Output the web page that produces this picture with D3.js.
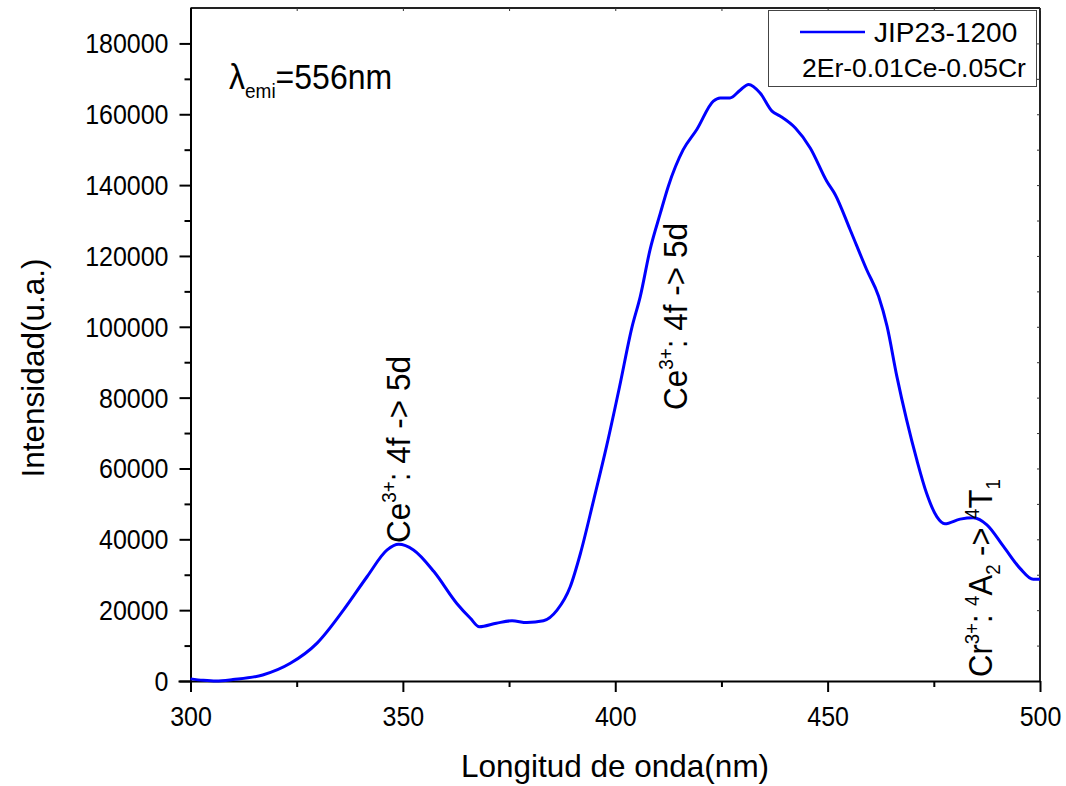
<!DOCTYPE html>
<html>
<head>
<meta charset="utf-8">
<script src="https://cdn.jsdelivr.net/npm/d3@7"></script>
<style>
  html, body { margin: 0; padding: 0; background: #fff; }
  svg { display: block; }
  text { font-family: Arial, "Liberation Sans", sans-serif; fill: #000; }
</style>
</head>
<body>
<svg id="chart" width="1066" height="786"></svg>
<script>
// Excitation spectrum, emission monitored at 556 nm
const wavelength = [300, 303, 306, 310, 317, 323.5, 329.8, 336, 341.6, 346.3, 349, 352.5, 357.3, 362.7, 365.9, 368,
  372, 375.7, 379.2, 383.1, 386.3, 389.4, 391.8, 394.9, 398, 401, 403.9, 405.9, 408.2, 410.6, 412.5, 416, 419.2,
  423.1, 424.7, 427, 429.4, 431.4, 434.1, 436.9, 438.8, 442.4, 445.9, 449.8, 451.8, 455.3, 459.2, 462, 464, 466.3,
  468.6, 471, 473.3, 475.7, 477.6, 481.2, 484.3, 487.5, 491.4, 495.3, 498.4, 500];
const intensity = [600, 200, 0, 400, 1700, 5000, 10700, 20000, 29500, 37000, 38600, 37000, 30900, 21900, 17700, 15300,
  16300, 17000, 16500, 17000, 20000, 26600, 36000, 51000, 66500, 83000, 99700, 108600, 121800, 132000, 139700, 150000, 155700,
  163700, 164600, 164600, 166800, 168400, 166000, 160900, 159500, 156100, 150500, 141100, 137300, 127400, 116100, 108600, 100100, 86000,
  73700, 62400, 53000, 46400, 44400, 45700, 46100, 44100, 38000, 31800, 28700, 28700];

const xTicks = [300, 350, 400, 450, 500];
const xMinorTicks = [325, 375, 425, 475];
const yTicks = [0, 20000, 40000, 60000, 80000, 100000, 120000, 140000, 160000, 180000];
const yMinorTicks = [10000, 30000, 50000, 70000, 90000, 110000, 130000, 150000, 170000];

const seriesName = "JIP23-1200";
const sampleName = "2Er-0.01Ce-0.05Cr";

const svg = d3.select("#chart");
const padL = 190.5, padR = 1040, padT = 8, padB = 681;

const x = d3.scaleLinear().domain([300, 500]).range([padL, padR]);
const y = d3.scaleLinear().domain([0, 190000]).range([padB, padT]);

const STRETCH = 1.08;

// frame (top and right)
svg.append("line").attr("x1", padL).attr("x2", padR).attr("y1", padT).attr("y2", padT)
  .attr("stroke", "#222").attr("stroke-width", 2);
svg.append("line").attr("x1", padR).attr("x2", padR).attr("y1", padT).attr("y2", padB)
  .attr("stroke", "#222").attr("stroke-width", 2);

// small ticks on top and right edges
svg.append("g").attr("transform", `translate(0,${padT})`)
  .call(d3.axisBottom(x).tickValues(xTicks.concat(xMinorTicks)).tickSize(3).tickFormat(""))
  .call(g => g.select(".domain").remove())
  .call(g => g.selectAll("line").attr("stroke", "#333").attr("stroke-width", 1));
svg.append("g").attr("transform", `translate(${padR},0)`)
  .call(d3.axisLeft(y).tickValues(yTicks.concat(yMinorTicks)).tickSize(3).tickFormat(""))
  .call(g => g.select(".domain").remove())
  .call(g => g.selectAll("line").attr("stroke", "#333").attr("stroke-width", 1));

// bottom axis
const gx = svg.append("g").attr("transform", `translate(0,${padB})`);
gx.call(d3.axisBottom(x).tickValues(xMinorTicks).tickSize(6).tickFormat("").tickSizeOuter(0))
  .call(g => g.select(".domain").remove());
gx.append("g").call(d3.axisBottom(x).tickValues(xTicks).tickSize(11).tickPadding(10).tickSizeOuter(0));
gx.selectAll("line").attr("stroke", "#000").attr("stroke-width", 2);
gx.selectAll(".domain").attr("stroke", "#000").attr("stroke-width", 2).attr("d", `M${padL - 12},0.5H${padR}`);
gx.selectAll("text").attr("font-size", 25).attr("font-family", null)
  .attr("y", null)
  .attr("transform", `translate(0,36) scale(1,${STRETCH})`)
  .attr("dy", "0.35em");

// left axis
const gy = svg.append("g").attr("transform", `translate(${padL},0)`);
gy.call(d3.axisLeft(y).tickValues(yMinorTicks).tickSize(6).tickFormat("").tickSizeOuter(0))
  .call(g => g.select(".domain").remove());
gy.append("g").call(d3.axisLeft(y).tickValues(yTicks).tickSize(11).tickPadding(11).tickFormat(d3.format("d")).tickSizeOuter(0));
gy.selectAll("line").attr("stroke", "#000").attr("stroke-width", 2);
gy.selectAll(".domain").attr("stroke", "#000").attr("stroke-width", 2).attr("d", `M0.5,${padT}V${padB}`);
gy.selectAll("text").attr("font-size", 25).attr("font-family", null)
  .attr("dy", "0.35em").attr("transform", `scale(1,${STRETCH})`);

// spectrum curve
const pts = wavelength.map((w, i) => [w, intensity[i]]);
svg.append("path")
  .datum(pts)
  .attr("fill", "none")
  .attr("stroke", "#0000ff")
  .attr("stroke-width", 3)
  .attr("stroke-linejoin", "round")
  .attr("d", d3.line().x(d => x(d[0])).y(d => y(d[1])).curve(d3.curveMonotoneX));

// axis titles
svg.append("text")
  .attr("transform", `translate(615,766)`)
  .attr("text-anchor", "middle").attr("dy", "0.35em")
  .attr("font-size", 31.5).text("Longitud de onda(nm)");
svg.append("text")
  .attr("transform", `translate(33,368) rotate(-90)`)
  .attr("text-anchor", "middle").attr("dy", "0.35em")
  .attr("font-size", 31.5).text("Intensidad(u.a.)");

// excitation wavelength note
const lam = svg.append("text")
  .attr("transform", `translate(229,89) scale(1,${STRETCH})`)
  .attr("font-size", 32);
lam.append("tspan").text("λ");
lam.append("tspan").attr("font-size", 19).attr("dy", 8).text("emi");
lam.append("tspan").attr("dy", -8).text("=556nm");

// rotated transition labels
function label(px, py, size, parts) {
  const t = svg.append("text")
    .attr("transform", `translate(${px},${py}) rotate(-90) scale(1,${STRETCH})`)
    .attr("font-size", size);
  let shift = 0;
  parts.forEach(p => {
    const small = p.sup || p.sub;
    const target = p.sup ? -0.4 * size : p.sub ? 0.23 * size : 0;
    t.append("tspan")
      .attr("font-size", small ? size * 0.6 : size)
      .attr("dy", target - shift)
      .text(p.t);
    shift = target;
  });
}
label(410, 543, 31.5, [{t: "Ce"}, {t: "3+", sup: true}, {t: ": 4f -> 5d"}]);
label(687, 410, 31.5, [{t: "Ce"}, {t: "3+", sup: true}, {t: ": 4f -> 5d"}]);
label(992, 677, 31, [{t: "Cr"}, {t: "3+", sup: true}, {t: ": "}, {t: "4", sup: true}, {t: "A"}, {t: "2", sub: true},
  {t: " -> "}, {t: "4", sup: true}, {t: "T"}, {t: "1", sub: true}]);

// legend
const lg = svg.append("g");
lg.append("rect").attr("x", 768.5).attr("y", 10.5).attr("width", 268).attr("height", 76)
  .attr("fill", "#fff").attr("stroke", "#444").attr("stroke-width", 1);
lg.append("line").attr("x1", 800).attr("x2", 865).attr("y1", 32).attr("y2", 32)
  .attr("stroke", "#0000ff").attr("stroke-width", 2.5);
lg.append("text").attr("x", 874).attr("y", 42).attr("font-size", 28).text(seriesName);
lg.append("text").attr("x", 802).attr("y", 77).attr("font-size", 26.5).text(sampleName);
</script>
</body>
</html>
